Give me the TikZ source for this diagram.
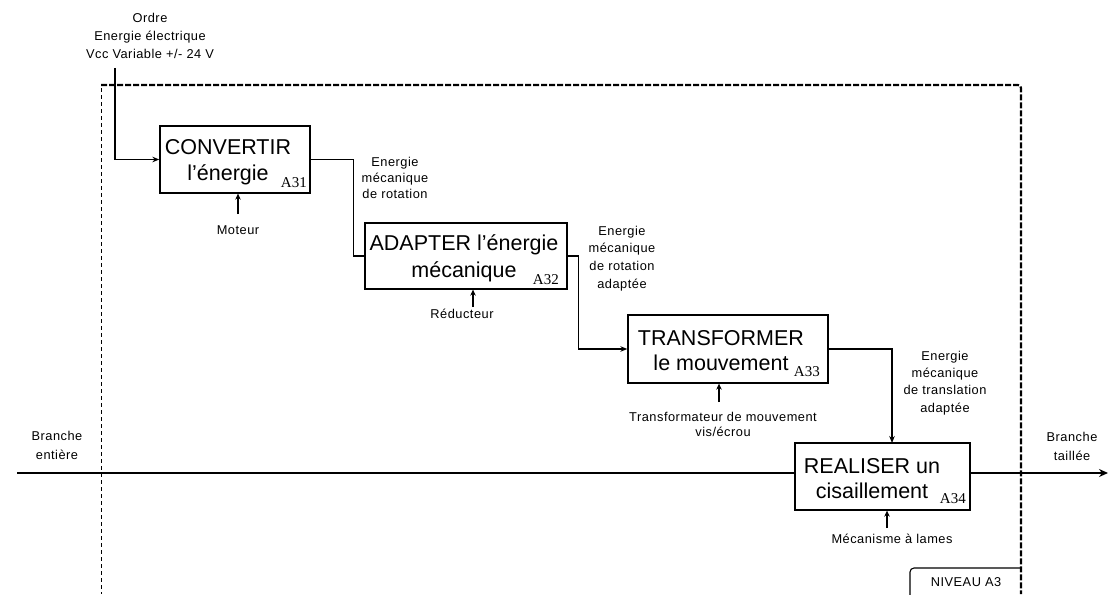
\documentclass[tikz,border=0pt]{standalone}
\usepackage{fontspec}
\setmainfont{Liberation Sans}
\newfontfamily\serifA{Liberation Serif}
\newfontfamily\lblfont[LetterSpace=4]{Liberation Sans}
\usetikzlibrary{arrows.meta}
\begin{document}
\begin{tikzpicture}[x=1pt,y=-1pt,
  box/.style={draw,line width=1.3pt,fill=white,inner sep=0pt},
  ttl/.style={anchor=base,align=center,inner sep=0pt,font=\fontsize{21.5}{26}\selectfont},
  alab/.style={anchor=base east,inner sep=0pt,font=\serifA\fontsize{15}{15}\selectfont},
  lbl/.style={anchor=base,align=center,inner sep=0pt,font=\lblfont\fontsize{12.8}{16.5}\selectfont},
  flow/.style={line width=1.2pt},
  tip/.style={-{Stealth[length=7pt,width=5.5pt]}},
  ctrl/.style={line width=2.2pt,-{Stealth[length=6pt,width=5.5pt]}},
  mainline/.style={line width=2.8pt},
  frameA/.style={line width=0.9pt,dash pattern=on 4pt off 3pt},
  frameB/.style={line width=2.2pt,dash pattern=on 6pt off 2pt}]
\useasboundingbox (0,0) rectangle (1113,594);
% frame
\draw[frameA] (101,88) -- (101,594);
\draw[frameB,rounded corners=3pt] (101,85) -- (1021,85) -- (1021,594);
\draw[line width=1.1pt,rounded corners=4pt] (910,600) -- (910,568) -- (1021,568);
\node[lbl] (niv) at (966,586) {NIVEAU A3};
% boxes
\node[box,minimum width=150pt,minimum height=67pt] (a31) at (235,159.5) {};
\node[box,minimum width=202pt,minimum height=66pt] (a32) at (466,256) {};
\node[box,minimum width=200pt,minimum height=68pt] (a33) at (728,349) {};
\node[box,minimum width=175pt,minimum height=67pt] (a34) at (882.5,476.5) {};
% titles
\node[ttl] (t1) at (228,180) {CONVERTIR\\l’énergie};
\node[ttl,font=\fontsize{21.5}{27}\selectfont] (t2) at (464,277) {ADAPTER l’énergie\\mécanique};
\node[ttl,font=\fontsize{21.5}{25}\selectfont] (t3) at (721,370) {TRANSFORMER\\le mouvement};
\node[ttl,font=\fontsize{21.5}{25}\selectfont] (t4) at (872,498) {REALISER un\\cisaillement};
\node[alab] (l1) at (307,187) {A31};
\node[alab] (l2) at (559,284) {A32};
\node[alab] (l3) at (820,376) {A33};
\node[alab] (l4) at (966,503) {A34};
% input
\coordinate (inTop) at (115,68);
\draw[flow,tip] (inTop) |- (a31.west);
\node[lbl,font=\lblfont\fontsize{12.8}{18}\selectfont] (ordre) at (150,59) {Ordre\\Energie électrique\\Vcc Variable +/- 24 V};
% flows between boxes
\draw[flow] (a31.east) -- ++(43,0) |- (a32.west);
\draw[flow,tip] (a32.east) -- ++(11,0) |- (a33.west);
\coordinate (a34in) at (892,443);
\draw[flow,tip] (a33.east) -| (a34in);
\node[lbl,font=\lblfont\fontsize{12.8}{16}\selectfont] (e1) at (395,198) {Energie\\mécanique\\de rotation};
\node[lbl,font=\lblfont\fontsize{12.8}{17.6}\selectfont] (e2) at (622,288) {Energie\\mécanique\\de rotation\\adaptée};
\node[lbl,font=\lblfont\fontsize{12.8}{17.3}\selectfont] (e3) at (945,412) {Energie\\mécanique\\de translation\\adaptée};
% main line
\coordinate (mainL) at (17,473);
\coordinate (mainR) at (1108,473);
\draw[mainline] (mainL) -- (a34.west |- mainL);
\draw[mainline,-{Stealth[length=9pt,width=8pt]}] (a34.east |- mainL) -- (mainR);
\node[lbl,font=\lblfont\fontsize{12.8}{19}\selectfont] (be) at (57,459) {Branche\\entière};
\node[lbl,font=\lblfont\fontsize{12.8}{19}\selectfont] (bt) at (1072,460) {Branche\\taillée};
% controls
\coordinate (m1) at (238,214);
\draw[ctrl] (m1) -- (m1 |- a31.south);
\node[lbl] (mot) at (238,234) {Moteur};
\coordinate (m2) at (473,307);
\draw[ctrl] (m2) -- (m2 |- a32.south);
\node[lbl] (red) at (462,318) {Réducteur};
\coordinate (m3) at (719,402);
\draw[ctrl] (m3) -- (m3 |- a33.south);
\node[lbl,font=\lblfont\fontsize{12.8}{14.5}\selectfont] (trf) at (723,436) {Transformateur de mouvement\\vis/écrou};
\coordinate (m4) at (887,528);
\draw[ctrl] (m4) -- (m4 |- a34.south);
\node[lbl] (mec) at (892,543) {Mécanisme à lames};
\end{tikzpicture}
\end{document}
